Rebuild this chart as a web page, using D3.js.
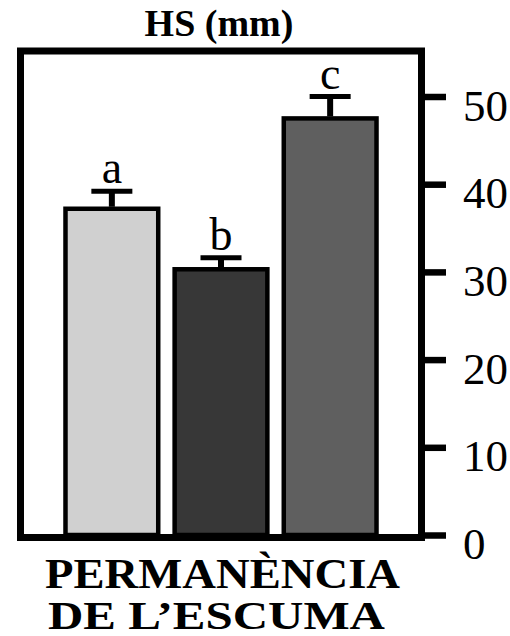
<!DOCTYPE html>
<html>
<head>
<meta charset="utf-8">
<script src="https://cdn.jsdelivr.net/npm/d3@7/dist/d3.min.js"></script>
<style>
html,body{margin:0;padding:0;background:#fff;}
svg{display:block;}
text{font-family:"Liberation Serif","Times New Roman",Times,serif;fill:#000;}
</style>
</head>
<body>
<svg id="chart" width="510" height="636"></svg>
<script>
const categories = ["g1", "g2", "g3"];
const values = [37.2, 30.3, 47.5];
const errors = [2.0, 1.3, 2.5];
const letters = ["a", "b", "c"];
const colors = ["#d0d0d0", "#373737", "#5f5f5f"];
const tickValues = [0, 10, 20, 30, 40, 50];
const title = "HS (mm)";
const xLabel = ["PERMANÈNCIA", "DE L\u2019ESCUMA"];

const svg = d3.select("#chart");

const y = d3.scaleLinear().domain([0, 50]).range([535, 96.5]);
const x = d3.scaleBand().domain(categories).range([24, 418]).paddingInner(0.11).paddingOuter(0.36);

// frame
svg.append("rect")
  .attr("x", 20.5).attr("y", 51)
  .attr("width", 421.5 - 20.5).attr("height", 537.5 - 51)
  .attr("fill", "none").attr("stroke", "#000").attr("stroke-width", 7);

// bars
const g = svg.append("g");
g.selectAll("rect.bar").data(values).join("rect")
  .attr("class", "bar")
  .attr("x", (d, i) => x(categories[i]) + 2.2)
  .attr("width", x.bandwidth() - 4.4)
  .attr("y", d => y(d))
  .attr("height", d => y(0) - y(d))
  .attr("fill", (d, i) => colors[i])
  .attr("stroke", "#000").attr("stroke-width", 4.5);

// error bars (upper only)
g.selectAll("line.stem").data(values).join("line")
  .attr("class", "stem")
  .attr("x1", (d, i) => x(categories[i]) + x.bandwidth() / 2)
  .attr("x2", (d, i) => x(categories[i]) + x.bandwidth() / 2)
  .attr("y1", d => y(d) - 2)
  .attr("y2", (d, i) => y(d + errors[i]))
  .attr("stroke", "#000").attr("stroke-width", 6);
g.selectAll("line.cap").data(values).join("line")
  .attr("class", "cap")
  .attr("x1", (d, i) => x(categories[i]) + x.bandwidth() / 2 - 20.5)
  .attr("x2", (d, i) => x(categories[i]) + x.bandwidth() / 2 + 20.5)
  .attr("y1", (d, i) => y(d + errors[i]))
  .attr("y2", (d, i) => y(d + errors[i]))
  .attr("stroke", "#000").attr("stroke-width", 5);

// significance letters
g.selectAll("text.letter").data(values).join("text")
  .attr("class", "letter")
  .attr("x", (d, i) => x(categories[i]) + x.bandwidth() / 2)
  .attr("y", (d, i) => y(d + errors[i]) - 8)
  .attr("text-anchor", "middle")
  .attr("font-size", 46)
  .text((d, i) => letters[i]);

// right axis
const axis = d3.axisRight(y).tickValues(tickValues).tickSize(21).tickPadding(17).tickFormat(d3.format("d"));
const ag = svg.append("g").attr("transform", "translate(425,0)").call(axis);
ag.select(".domain").remove();
ag.selectAll(".tick line").attr("stroke", "#000").attr("stroke-width", 6.5).attr("x1", -3);
ag.selectAll(".tick text")
  .attr("font-size", 45)
  .attr("font-family", "'Liberation Serif','Times New Roman',serif")
  .attr("fill", "#000")
  .attr("dy", null)
  .attr("y", 23.5);

// title
svg.append("text")
  .attr("x", 219).attr("y", 36)
  .attr("text-anchor", "middle")
  .attr("font-size", 38).attr("font-weight", "bold")
  .text(title);

// x label
svg.append("text")
  .attr("x", 45).attr("y", 588)
  .attr("font-size", 42).attr("font-weight", "bold")
  .attr("textLength", 355).attr("lengthAdjust", "spacingAndGlyphs")
  .text(xLabel[0]);
svg.append("text")
  .attr("x", 48).attr("y", 629)
  .attr("font-size", 41).attr("font-weight", "bold")
  .attr("textLength", 337).attr("lengthAdjust", "spacingAndGlyphs")
  .text(xLabel[1]);
</script>
</body>
</html>
